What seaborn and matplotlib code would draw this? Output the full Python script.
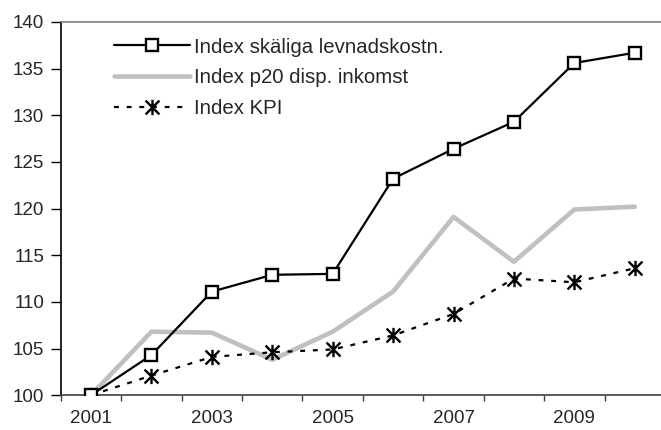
import numpy as np
import pandas as pd
import matplotlib
matplotlib.use("Agg")
import matplotlib.pyplot as plt
from matplotlib.path import Path
import seaborn as sns

years = [2001, 2002, 2003, 2004, 2005, 2006, 2007, 2008, 2009, 2010]
skaliga = [100, 104.3, 111.1, 112.9, 113.0, 123.2, 126.4, 129.3, 135.6, 136.7]
p20 = [100, 106.8, 106.7, 103.8, 106.8, 111.1, 119.1, 114.3, 119.9, 120.2]
kpi = [100, 102.1, 104.1, 104.6, 104.9, 106.4, 108.7, 112.5, 112.1, 113.6]
labels = ["Index skäliga levnadskostn.", "Index p20 disp. inkomst", "Index KPI"]

sns.set_style("white")
plt.rcParams["font.family"] = ["Liberation Sans", "DejaVu Sans"]

x = np.arange(len(years))

# asterisk like Excel: X plus vertical bar
star = Path([(-1, -1), (1, 1), (-1, 1), (1, -1), (0, -1.1), (0, 1.1)],
            [Path.MOVETO, Path.LINETO, Path.MOVETO, Path.LINETO, Path.MOVETO, Path.LINETO])

fig = plt.figure(figsize=(6.61, 4.30), dpi=100)
ax = fig.add_axes([0.092, 0.081, 0.914, 0.868])

sns.lineplot(x=x, y=skaliga, ax=ax, color="black", lw=1.6, marker="s", markersize=9,
             markerfacecolor="white", markeredgecolor="black", markeredgewidth=1.7,
             label=labels[0], zorder=4)
sns.lineplot(x=x, y=p20, ax=ax, color="#c0c0c0", lw=3.3, label=labels[1], zorder=2)
sns.lineplot(x=x, y=kpi, ax=ax, color="black", lw=1.6, marker=star, markersize=11,
             markeredgewidth=1.7, markeredgecolor="black", label=labels[2], zorder=3)
ax.lines[2].set_dashes((2.2, 3.5))

ax.set_xlim(-0.5, len(years) - 0.5)
ax.set_ylim(100, 140)
ax.set_yticks(np.arange(100, 141, 5))
ax.set_xticks(np.arange(-0.5, len(years), 1))
ax.set_xticklabels([])
ax.set_xticks(x[::2], minor=True)
ax.set_xticklabels([str(y) for y in years[::2]], minor=True)
ax.tick_params(axis="x", which="major", direction="out", length=4.5, width=1, color="#404040", bottom=True)
ax.tick_params(axis="x", which="minor", length=0, labelsize=13.5, pad=11)
ax.tick_params(axis="y", direction="out", length=7.5, width=1, color="black", left=True, labelsize=13.5, pad=4.5)

for s in ["left", "bottom", "top"]:
    ax.spines[s].set_visible(True)
ax.spines["left"].set_color("black")
ax.spines["bottom"].set_color("#404040")
ax.spines["top"].set_color("#808080")
ax.spines["right"].set_visible(False)
for s in ax.spines.values():
    s.set_linewidth(1.2)

ax.legend(loc="upper left", bbox_to_anchor=(0.075, 0.98), frameon=False, fontsize=14.7,
          handlelength=3.7, handletextpad=0.2, labelspacing=0.57, borderaxespad=0)

fig.savefig("out.png", dpi=100)
